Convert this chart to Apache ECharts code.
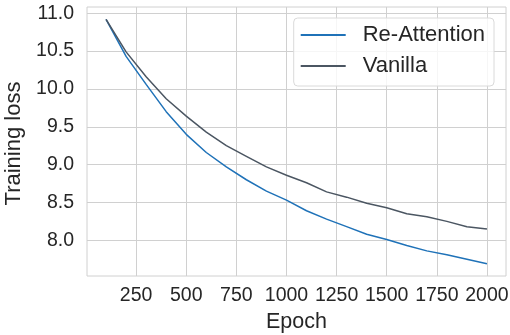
<!DOCTYPE html>
<html>
<head>
<meta charset="utf-8">
<script src="https://cdn.jsdelivr.net/npm/echarts@6/dist/echarts.min.js"></script>
<style>
  html, body { margin: 0; padding: 0; background: #fff; }
  #chart { width: 510px; height: 335px; }
</style>
</head>
<body>
<div id="chart"></div>
<script>
// Training loss per epoch
const epochs = [100, 200, 300, 400, 500, 600, 700, 800, 900, 1000,
  1100, 1200, 1300, 1400, 1500, 1600, 1700, 1800, 1900, 2000];
const reAttention = [10.92, 10.43, 10.06, 9.70, 9.40, 9.16, 8.97, 8.80, 8.65, 8.53,
  8.39, 8.28, 8.18, 8.08, 8.01, 7.93, 7.86, 7.81, 7.75, 7.69];
const vanilla = [10.92, 10.49, 10.16, 9.87, 9.64, 9.43, 9.25, 9.11, 8.97, 8.86,
  8.76, 8.64, 8.57, 8.49, 8.43, 8.35, 8.31, 8.25, 8.18, 8.15];
const xTicks = [250, 500, 750, 1000, 1250, 1500, 1750, 2000];
const yTicks = [8.0, 8.5, 9.0, 9.5, 10.0, 10.5, 11.0];

const BLUE = '#1f72b8';
const SLATE = '#4b5662';
const GRID = '#d0d0d0';
const TEXT = '#262626';

const chart = echarts.init(document.getElementById('chart'), null, { renderer: 'canvas' });

const pairs = (ys) => epochs.map((x, i) => [x, ys[i]]);

chart.setOption({
  animation: false,
  backgroundColor: '#fff',
  textStyle: { fontFamily: 'Liberation Sans, Arial, sans-serif' },
  grid: {
    left: 87, right: 4, top: 7, bottom: 59,
    outerBoundsMode: 'none',
    show: true, borderColor: GRID, borderWidth: 1
  },
  legend: {
    right: 16, top: 18,
    orient: 'vertical',
    backgroundColor: 'rgba(255,255,255,0.8)',
    borderColor: '#dadada', borderWidth: 1, borderRadius: 4,
    padding: [6, 9, 9, 7],
    itemWidth: 45, itemHeight: 2, itemGap: 9,
    icon: 'rect',
    textStyle: { fontSize: 22, color: TEXT, padding: [0, 0, 0, 12] },
    data: ['Re-Attention', 'Vanilla']
  },
  xAxis: {
    type: 'value',
    min: 5, max: 2095,
    name: 'Epoch', nameLocation: 'middle', nameGap: 33,
    nameTextStyle: { fontSize: 21.5, color: TEXT },
    axisLine: { show: false },
    axisTick: { show: false, customValues: xTicks },
    axisLabel: { customValues: xTicks, fontSize: 19.5, color: TEXT, margin: 10,
      formatter: (v) => String(v) },
    splitLine: { show: true, lineStyle: { color: GRID, width: 1 } }
  },
  yAxis: {
    type: 'value',
    min: 7.528, max: 11.083,
    name: 'Training loss', nameLocation: 'middle', nameGap: 62, nameRotate: 90,
    nameTextStyle: { fontSize: 22, color: TEXT, padding: [0, 4, 0, 0] },
    axisLine: { show: false },
    axisTick: { show: false, customValues: yTicks },
    axisLabel: { customValues: yTicks, fontSize: 19.5, color: TEXT, margin: 13,
      formatter: (v) => v.toFixed(1) },
    splitLine: { show: true, lineStyle: { color: GRID, width: 1 } }
  },
  series: [
    {
      name: 'Re-Attention', type: 'line', data: pairs(reAttention),
      showSymbol: false, lineStyle: { color: BLUE, width: 1.5 }, itemStyle: { color: BLUE }
    },
    {
      name: 'Vanilla', type: 'line', data: pairs(vanilla),
      showSymbol: false, lineStyle: { color: SLATE, width: 1.5 }, itemStyle: { color: SLATE }
    }
  ]
});
</script>
</body>
</html>
